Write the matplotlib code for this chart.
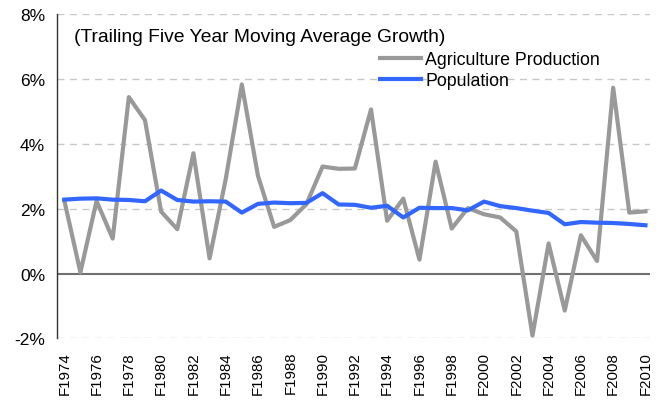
import numpy as np
import matplotlib
matplotlib.use("Agg")
import matplotlib.pyplot as plt

plt.rcParams['font.family'] = ['Liberation Sans', 'DejaVu Sans']

# fiscal years and trailing 5-yr average growth (%)
years = list(range(1974, 2011))
agri = [2.26, 0.04, 2.24, 1.08, 5.44, 4.73, 1.91, 1.37, 3.71, 0.47,
        2.91, 5.83, 3.01, 1.44, 1.65, 2.14, 3.30, 3.23, 3.24, 5.06,
        1.63, 2.31, 0.43, 3.45, 1.39, 2.02, 1.83, 1.73, 1.30, -1.91,
        0.93, -1.14, 1.18, 0.39, 5.73, 1.88, 1.92]
popn = [2.28, 2.31, 2.32, 2.28, 2.27, 2.23, 2.56, 2.27, 2.22, 2.23,
        2.22, 1.88, 2.15, 2.19, 2.17, 2.18, 2.48, 2.13, 2.12, 2.03,
        2.09, 1.73, 2.03, 2.02, 2.02, 1.95, 2.22, 2.08, 2.02, 1.94,
        1.87, 1.52, 1.59, 1.57, 1.56, 1.53, 1.49]
ytick_vals = [-2, 0, 2, 4, 6, 8]

x = np.arange(len(years))

fig = plt.figure(figsize=(6.65, 4.02), dpi=100)
ax = fig.add_axes([0.0857, 0.1555, 0.891, 0.807])

# dashed grid, solid zero line
for v in ytick_vals:
    if v == 0:
        continue
    ax.axhline(v, color='#c8c8c8', lw=1, ls=(0, (5, 4)), zorder=0)
ax.axhline(0, color='#707070', lw=1.5, zorder=1)

ax.plot(x, agri, color='#999999', lw=3, label='Agriculture Production', zorder=2)
ax.plot(x, popn, color='#3366ff', lw=3, label='Population', zorder=3)

ax.set_xlim(-0.45, 36.25)
ax.set_ylim(-2, 8)
ax.set_yticks(ytick_vals)
ax.set_yticklabels(['%d%%' % v for v in ytick_vals], fontsize=12.5)
ax.set_xticks(x[::2])
ax.set_xticklabels(['F%d' % y for y in years[::2]], rotation=90, fontsize=10.8)
ax.tick_params(axis='y', length=0, pad=8.5)
ax.tick_params(axis='x', length=0, pad=9)

for s in ['top', 'right', 'bottom']:
    ax.spines[s].set_visible(False)
ax.spines['left'].set_color('#333333')
ax.spines['left'].set_linewidth(1)

fig.text(74 / 665, 1 - 38 / 402, '(Trailing Five Year Moving Average Growth)',
         fontsize=13.9, va='center', ha='left')
fig.legend(*ax.get_legend_handles_labels(), loc='upper left',
           bbox_to_anchor=(380 / 665, 1 - 52 / 402), frameon=False,
           fontsize=12.8, handlelength=2.3, handletextpad=0.25,
           labelspacing=0.22, borderpad=0, borderaxespad=0)

plt.savefig('out.png', dpi=100)
